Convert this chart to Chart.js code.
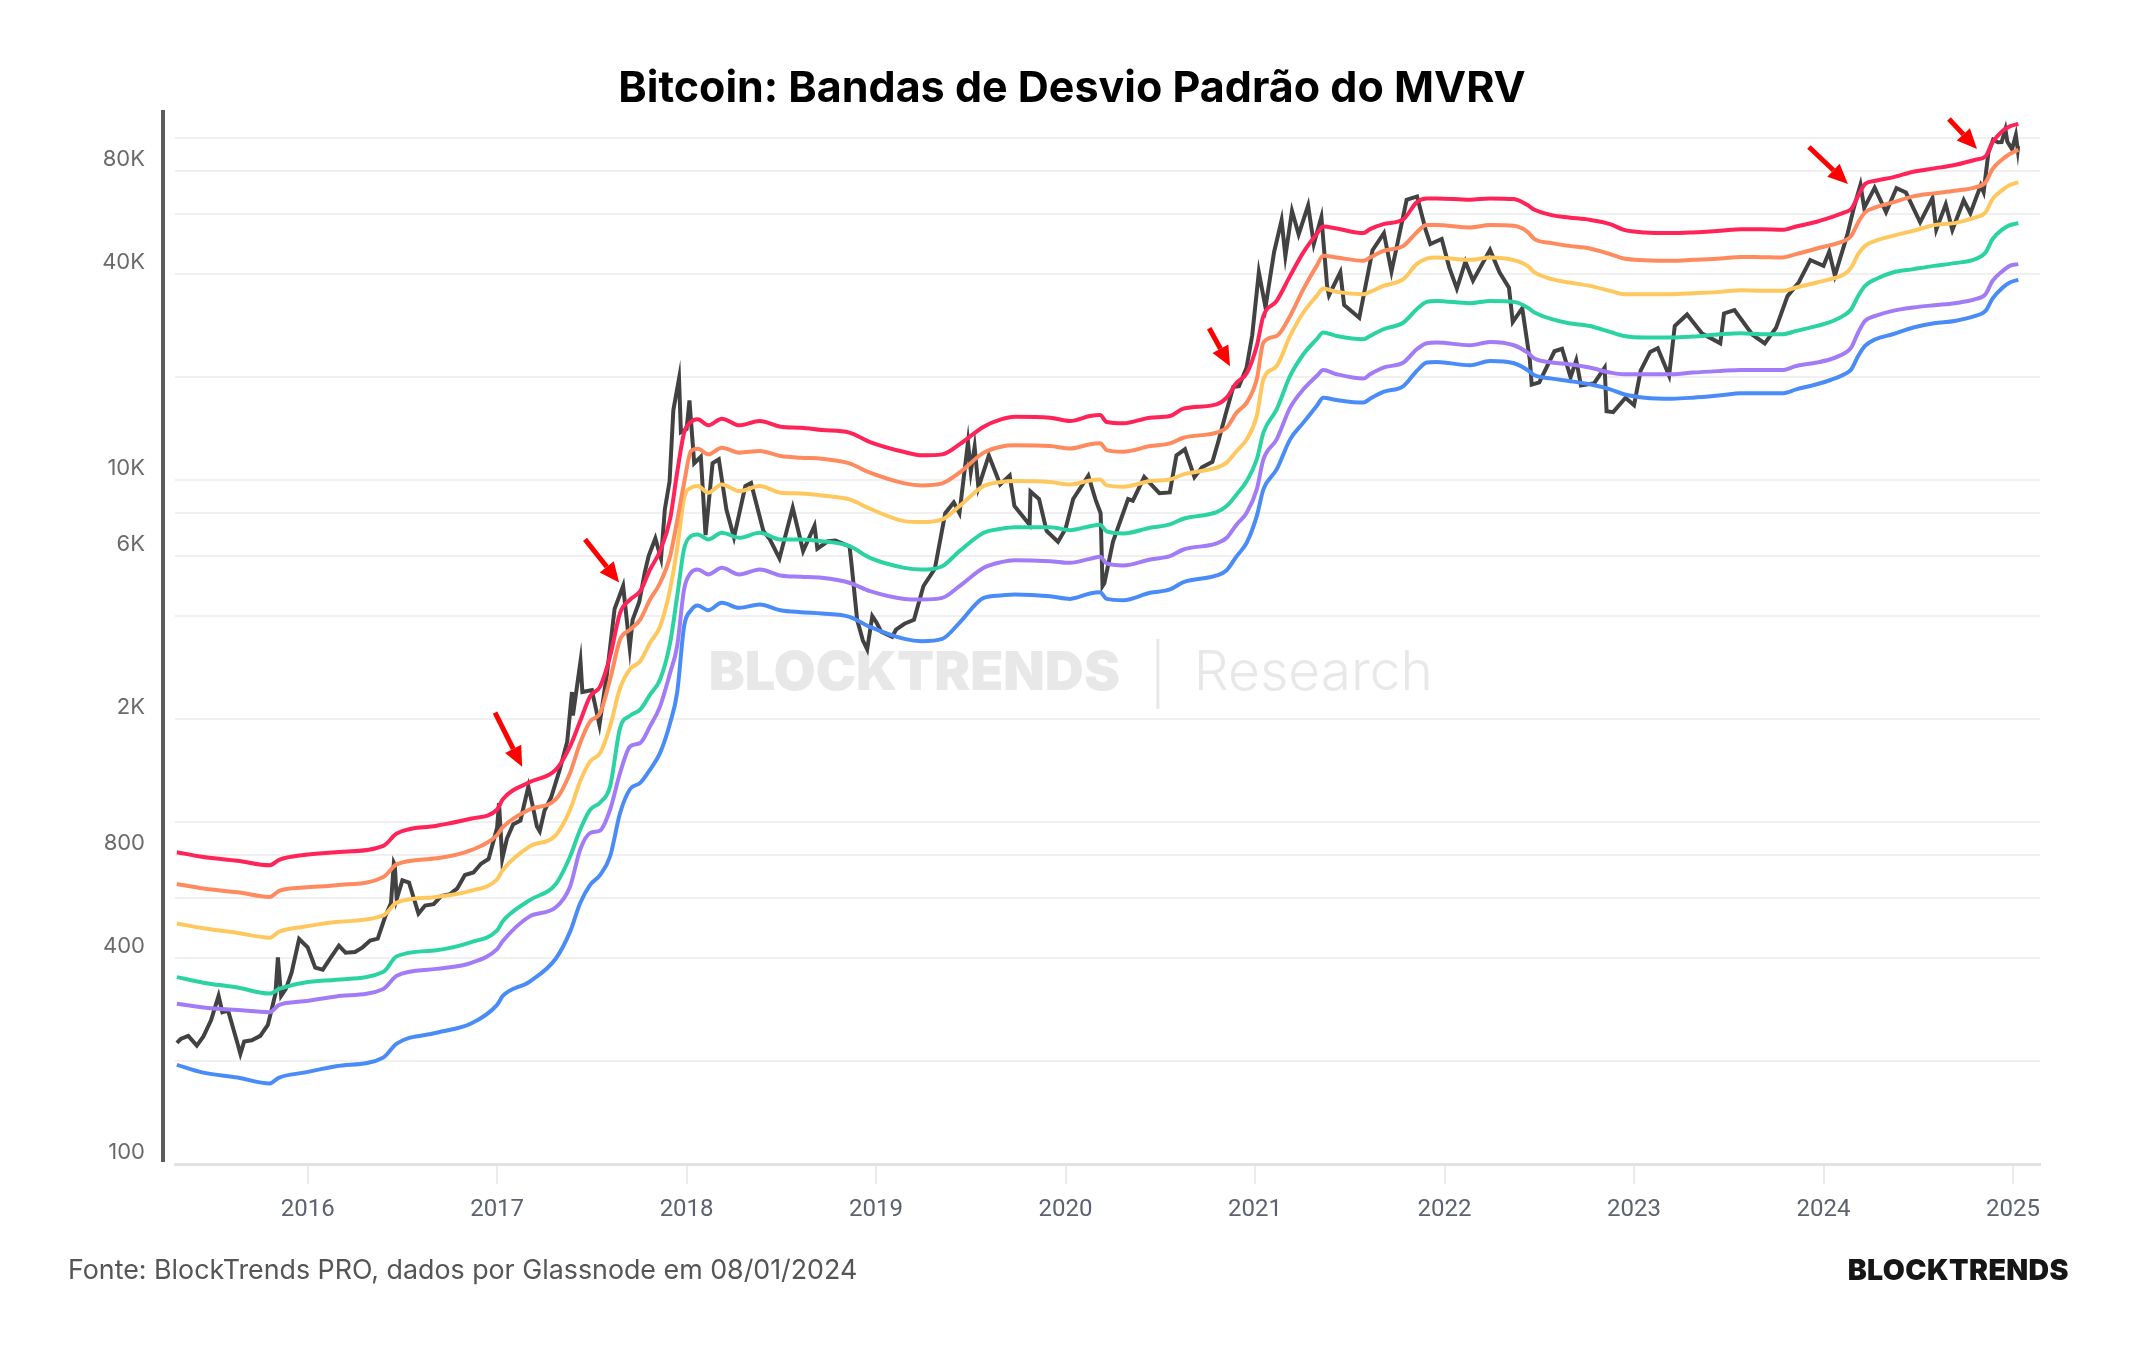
<!DOCTYPE html>
<html>
<head>
<meta charset="utf-8">
<script src="https://cdn.jsdelivr.net/npm/chart.js@4.4.0/dist/chart.umd.min.js"></script>
<style>
  html, body { margin: 0; padding: 0; background: #fff; }
  #wrap { position: relative; width: 2144px; height: 1350px; overflow: hidden; background: #fff; }
  #chart { position: absolute; left: 0; top: 0; }
  .title { position: absolute; top: 61px; left: 0; width: 2144px; text-align: center; font: 700 43px Inter, "Noto Sans", sans-serif; line-height: 50px; color: #000; }
  .source { position: absolute; left: 68px; top: 1252px; font: 400 26.8px Inter, sans-serif; line-height: 34px; color: #555; }
  .logo { position: absolute; right: 75px; top: 1253px; font: 900 28.5px Inter, sans-serif; line-height: 34px; color: #161616; letter-spacing: 0.4px; }
</style>
</head>
<body>
<div id="wrap">
  <canvas id="chart" width="2144" height="1350"></canvas>
  <div class="title">Bitcoin: Bandas de Desvio Padrão do MVRV</div>
  <div class="source">Fonte: BlockTrends PRO, dados por Glassnode em 08/01/2024</div>
  <div class="logo">BLOCKTRENDS</div>
</div>
<script>
// price (USD), dates as decimal years
const priceYears = [
  2015.31, 2015.33, 2015.37, 2015.415, 2015.45, 2015.49, 2015.53, 2015.55, 2015.58, 2015.63, 2015.645, 2015.665, 2015.705, 2015.75, 2015.79, 2015.83, 2015.843, 2015.86, 2015.885, 2015.915, 2015.955,
  2016.0, 2016.04, 2016.08, 2016.12, 2016.165, 2016.2, 2016.25, 2016.29, 2016.33, 2016.37, 2016.41, 2016.44, 2016.455, 2016.46, 2016.47, 2016.5, 2016.535, 2016.585, 2016.62, 2016.665, 2016.705, 2016.75, 2016.79, 2016.83, 2016.875, 2016.915, 2016.955,
  2017.0, 2017.01, 2017.027, 2017.052, 2017.085, 2017.123, 2017.165, 2017.19, 2017.21, 2017.225, 2017.25, 2017.285, 2017.33, 2017.37, 2017.395, 2017.4, 2017.44, 2017.45, 2017.5, 2017.54, 2017.58, 2017.62, 2017.665, 2017.7, 2017.715, 2017.75, 2017.78, 2017.8, 2017.835, 2017.865, 2017.885, 2017.91, 2017.93, 2017.96, 2017.97,
  2018.0, 2018.015, 2018.04, 2018.075, 2018.1, 2018.137, 2018.17, 2018.21, 2018.25, 2018.31, 2018.34, 2018.405, 2018.44, 2018.49, 2018.56, 2018.615, 2018.675, 2018.69, 2018.745, 2018.785, 2018.86, 2018.87, 2018.9, 2018.93, 2018.953, 2018.98,
  2019.0, 2019.027, 2019.085, 2019.105, 2019.15, 2019.2, 2019.25, 2019.31, 2019.365, 2019.41, 2019.44, 2019.485, 2019.5, 2019.52, 2019.54, 2019.595, 2019.655, 2019.705, 2019.73, 2019.81, 2019.815, 2019.86, 2019.9, 2019.96,
  2020.0, 2020.04, 2020.12, 2020.16, 2020.185, 2020.195, 2020.205, 2020.25, 2020.33, 2020.355, 2020.415, 2020.495, 2020.55, 2020.585, 2020.63, 2020.68, 2020.72, 2020.775, 2020.805, 2020.845, 2020.885, 2020.915, 2020.955, 2020.985,
  2021.02, 2021.055, 2021.1, 2021.14, 2021.16, 2021.195, 2021.23, 2021.28, 2021.31, 2021.35, 2021.38, 2021.39, 2021.45, 2021.47, 2021.55, 2021.62, 2021.68, 2021.72, 2021.8, 2021.855, 2021.9, 2021.925, 2021.985,
  2022.025, 2022.065, 2022.11, 2022.15, 2022.24, 2022.29, 2022.34, 2022.36, 2022.41, 2022.45, 2022.46, 2022.5, 2022.58, 2022.62, 2022.665, 2022.695, 2022.72, 2022.79, 2022.845, 2022.855, 2022.89, 2022.955,
  2023.0, 2023.035, 2023.085, 2023.125, 2023.185, 2023.215, 2023.28, 2023.36, 2023.455, 2023.475, 2023.53, 2023.625, 2023.69, 2023.75, 2023.81, 2023.87, 2023.93,
  2024.0, 2024.03, 2024.06, 2024.125, 2024.16, 2024.195, 2024.215, 2024.27, 2024.33, 2024.385, 2024.435, 2024.51, 2024.575, 2024.595, 2024.645, 2024.68, 2024.74, 2024.775, 2024.83, 2024.845, 2024.87, 2024.895, 2024.92, 2024.94, 2024.96, 2024.97, 2024.995,
  2025.015, 2025.025, 2025.027
]
const priceValues = [
  226, 232, 237, 222, 236, 263, 310, 278, 281, 225, 210, 228, 230, 237, 255, 314, 402, 310, 325, 362, 455,
  430, 375, 370, 400, 435, 415, 417, 430, 450, 456, 530, 580, 760, 750, 595, 675, 665, 540, 570, 575, 607, 615, 640, 700, 712, 755, 780,
  963, 1135, 780, 895, 985, 1010, 1270, 1100, 970, 940, 1080, 1180, 1420, 1720, 2400, 2050, 2950, 2400, 2430, 1920, 2720, 4200, 4900, 3230, 3900, 4400, 5400, 6000, 6750, 5900, 8200, 9900, 16000, 19800, 13800,
  14100, 17100, 11200, 11700, 6900, 11200, 11500, 8200, 6800, 9600, 9800, 7100, 6700, 5900, 8300, 6200, 7350, 6300, 6620, 6650, 6400, 5700, 3900, 3400, 3200, 4000,
  3850, 3600, 3480, 3650, 3800, 3900, 4900, 5500, 8000, 8600, 8000, 12900, 10600, 12500, 9500, 11800, 9700, 10300, 8400, 7400, 9250, 8800, 7100, 6600,
  7200, 8800, 10300, 8700, 8000, 4900, 5000, 6600, 8800, 8700, 10200, 9150, 9200, 11800, 12300, 10200, 10900, 11300, 12900, 15600, 18700, 18800, 21300, 26500,
  40500, 32000, 46300, 57500, 45200, 61200, 52300, 63500, 49000, 58800, 37000, 34700, 40500, 32500, 29800, 47000, 52700, 40700, 66000, 67500, 54000, 49000, 50700,
  41800, 36300, 43500, 38300, 47100, 40500, 36500, 29000, 31800, 22500, 19000, 19300, 23800, 24200, 20000, 22400, 18900, 19200, 21300, 15900, 15800, 17400,
  16550, 20900, 23700, 24300, 20200, 28200, 30500, 26800, 25100, 30700, 31400, 26600, 25100, 27900, 34500, 37900, 44000,
  42300, 46500, 39600, 52000, 62500, 73000, 62500, 71600, 60700, 71400, 69300, 56700, 66800, 54000, 64000, 53900, 65800, 60300, 72700, 69500, 90500, 98900, 97200, 97300, 106100, 97700, 92800,
  102100, 92500, 94700
]

// MVRV deviation bands, read at common dates
const bandYears = [
  2015.31, 2015.45, 2015.63, 2015.80, 2015.85, 2015.98, 2016.15, 2016.40, 2016.47, 2016.68, 2016.86, 2017.00, 2017.03, 2017.17, 2017.31,
  2017.385, 2017.438, 2017.491, 2017.544, 2017.596, 2017.649, 2017.702, 2017.755, 2017.807, 2017.86, 2017.913,
  2017.95, 2017.987, 2018.023, 2018.059, 2018.114, 2018.186, 2018.278, 2018.386, 2018.495, 2018.604, 2018.713, 2018.859, 2018.968, 2019.15, 2019.241, 2019.349, 2019.44, 2019.568, 2019.659, 2019.731,
  2019.918, 2020.024, 2020.129, 2020.182, 2020.217, 2020.305, 2020.446, 2020.551, 2020.622, 2020.797, 2020.85, 2020.903, 2020.956, 2021.009, 2021.044, 2021.114, 2021.185, 2021.255, 2021.325, 2021.36, 2021.431, 2021.572, 2021.607, 2021.677, 2021.783, 2021.853, 2021.906, 2021.958, 2022.134, 2022.24,
  2022.366, 2022.438, 2022.475, 2022.566, 2022.656, 2022.766, 2022.874, 2022.947, 2023.056, 2023.202, 2023.311, 2023.456, 2023.565, 2023.674, 2023.783, 2023.856, 2023.965, 2024.037, 2024.11, 2024.146, 2024.183, 2024.219, 2024.274, 2024.365, 2024.474, 2024.583, 2024.692, 2024.801, 2024.855, 2024.892, 2024.946, 2024.983, 2025.028
]
const bandRed = [
  816, 790, 770, 747, 775, 801, 816, 852, 925, 975, 1022, 1088, 1166, 1306, 1422,
  1664, 1970, 2331, 2494, 3052, 4090, 4473, 4731, 5475, 6200, 7700,
  10509, 13761, 14780, 15047, 14453, 15117, 14453, 14879, 14324, 14225, 14002, 13761, 12917, 12074, 11808, 11888, 12718, 14324, 15047, 15323,
  15216, 14879, 15387, 15493, 14780, 14651, 15216, 15387, 16171, 16653, 17414, 19276, 20523, 24664, 30192, 33408, 39535, 46300, 52377, 55152, 54389, 52733, 54159, 56029, 57935, 64857, 66602, 66602, 66005, 66602,
  66297, 63678, 61689, 59535, 58589, 57668, 56029, 53909, 52983, 52733, 52983, 53553, 54159, 54159, 53909, 55152, 56906, 58589, 60629, 61999, 67812, 73368, 75016, 76747, 79715, 81529, 83391, 86428, 88424, 97185, 105098, 108229, 109940
]
const bandOrange = [
  659, 639, 623, 604, 629, 643, 653, 691, 752, 783, 826, 916, 966, 1088, 1166,
  1392, 1703, 1970, 2085, 2609, 3416, 3654, 3909, 4473, 5000, 5990,
  7600, 9824, 12155, 12349, 11888, 12430, 12026, 12155, 11751, 11621, 11545, 11189, 10509, 9778, 9646, 9778, 10509, 12026, 12518, 12631,
  12570, 12371, 12718, 12804, 12236, 12107, 12570, 12804, 13298, 13761, 14225, 15747, 16845, 19704, 25241, 26384, 30192, 36150, 42292, 45241, 44743, 43749, 44743, 46798, 48395, 52983, 55648, 55648, 54770, 55648,
  55381, 53197, 50628, 49295, 48395, 47546, 45771, 44431, 43952, 43749, 44039, 44431, 44929, 44836, 44743, 45771, 47546, 48629, 50061, 51770, 56677, 60629, 62675, 64857, 67535, 68912, 70126, 71720, 74217, 81154, 86865, 89811, 92439
]
const bandYellow = [
  505, 489, 474, 459, 478, 494, 510, 533, 581, 604, 629, 680, 724, 847, 916,
  1086, 1315, 1504, 1593, 1905, 2466, 2804, 2951, 3342, 3730, 4800,
  6300, 8860, 9494, 9600, 9184, 9712, 9283, 9600, 9184, 9141, 9018, 8778, 8242, 7583, 7533, 7670, 8390, 9600, 9864, 9930,
  9864, 9712, 9976, 10043, 9646, 9560, 9930, 10043, 10389, 10864, 11242, 12155, 13150, 15387, 19704, 21553, 26384, 30899, 34549, 36309, 35500, 34953, 35500, 36958, 38663, 42787, 44431, 44743, 44039, 44743,
  43952, 42292, 40461, 38663, 37823, 36958, 35741, 34953, 34953, 34953, 35191, 35500, 35911, 35741, 35741, 36569, 37823, 38663, 39998, 41826, 45771, 48395, 50061, 51770, 53553, 55648, 56410, 58589, 60629, 66297, 70639, 72880, 74217
]
const bandGreen = [
  352, 339, 328, 315, 325, 339, 346, 365, 405, 422, 445, 482, 513, 590, 659,
  793, 949, 1086, 1141, 1271, 1884, 2047, 2131, 2358, 2609, 3342,
  4570, 6300, 6853, 6933, 6703, 7013, 6777, 7013, 6703, 6703, 6627, 6407, 5923, 5537, 5472, 5599, 6195, 7013, 7202, 7282,
  7282, 7137, 7331, 7401, 7075, 6980, 7250, 7417, 7704, 8058, 8390, 9079, 9930, 11492, 13761, 16097, 20149, 23326, 25805, 26999, 26384, 25805, 26384, 27601, 28884, 31584, 33186, 33408, 32897, 33408,
  33186, 31953, 30899, 29541, 28748, 28224, 27110, 26384, 26093, 26093, 26274, 26692, 26874, 26692, 26692, 27292, 28224, 29001, 30337, 31584, 34549, 36958, 38663, 40461, 41381, 42292, 43078, 44256, 46300, 50628, 54159, 55648, 56410
]
const bandPurple = [
  294, 287, 282, 278, 292, 299, 309, 325, 355, 372, 387, 425, 449, 529, 563,
  648, 830, 929, 945, 1086, 1392, 1664, 1703, 1905, 2179, 2730,
  3270, 4800, 5360, 5475, 5295, 5537, 5295, 5475, 5259, 5212, 5176, 5007, 4732, 4492, 4473, 4523, 4893, 5537, 5753, 5831,
  5792, 5730, 5881, 5966, 5703, 5626, 5857, 5989, 6265, 6526, 6777, 7417, 8026, 9390, 11492, 13150, 16279, 18420, 20149, 20981, 20384, 19797, 20384, 21326, 22058, 24120, 25122, 25241, 24785, 25343,
  24785, 23597, 22653, 22058, 21806, 21326, 20620, 20384, 20384, 20384, 20620, 20842, 20981, 20981, 20981, 21556, 22058, 22551, 23485, 24392, 27001, 29196, 30192, 31231, 31953, 32455, 32897, 33786, 34953, 38234, 40897, 42292, 42787
]
const bandBlue = [
  195, 185, 179, 172, 179, 185, 193, 205, 225, 242, 257, 292, 310, 341, 399,
  478, 579, 655, 701, 793, 1063, 1249, 1301, 1423, 1593, 1949,
  2390, 3740, 4160, 4297, 4163, 4376, 4230, 4326, 4163, 4107, 4071, 3982, 3722, 3431, 3378, 3431, 3824, 4524, 4596, 4628,
  4574, 4492, 4659, 4700, 4492, 4453, 4680, 4786, 5027, 5259, 5450, 5989, 6557, 7842, 9390, 10743, 13150, 14720, 16460, 17414, 17140, 16845, 17293, 18093, 18835, 20842, 22058, 22147, 21657, 22295,
  21954, 20981, 20250, 19797, 19486, 19055, 18420, 17814, 17414, 17293, 17414, 17693, 17935, 17935, 17935, 18420, 19055, 19613, 20384, 21057, 23057, 24664, 25805, 26692, 27940, 28748, 29196, 30192, 31231, 33942, 36569, 37823, 38484
]

// axes
const xTickYears = [2016, 2017, 2018, 2019, 2020, 2021, 2022, 2023, 2024, 2025]
const yGridValues = [100, 200, 400, 600, 800, 1000, 2000, 4000, 6000, 8000, 10000, 20000, 40000, 60000, 80000, 100000]
const yLabelValues = [100, 400, 800, 2000, 6000, 10000, 40000, 80000]
const yLabelTexts = ["100", "400", "800", "2K", "6K", "10K", "40K", "80K"]

// red arrows (tail -> head), in chart units
const arrowFromYears = [2016.989, 2017.464, 2020.758, 2023.923, 2024.662]
const arrowFromPrices = [2089, 6706, 27800, 94163, 113739]
const arrowToYears = [2017.132, 2017.644, 2020.868, 2024.129, 2024.81]
const arrowToPrices = [1451, 5017, 21514, 73368, 92905]

const toPoints = (xs, ys) => xs.map((x, i) => ({ x, y: ys[i] }))

const bandStyle = (label, values, color) => ({
  label,
  data: toPoints(bandYears, values),
  borderColor: color,
  borderWidth: 4,
  pointRadius: 0,
  cubicInterpolationMode: "monotone",
  order: 1
})

const decorations = {
  id: "decorations",
  beforeDatasetsDraw(chart) {
    const { ctx, chartArea } = chart
    const cx = chartArea.left + chartArea.width * 0.527
    const cy = chartArea.top + chartArea.height * 0.535
    ctx.save()
    ctx.fillStyle = "#e8e8e8"
    ctx.textBaseline = "middle"
    ctx.font = "900 54px Inter, sans-serif"
    ctx.textAlign = "right"
    ctx.fillText("BLOCKTRENDS", cx - 38, cy)
    ctx.font = "300 55px Inter, sans-serif"
    ctx.textAlign = "left"
    ctx.fillText("Research", cx + 36, cy)
    ctx.strokeStyle = "#e8e8e8"
    ctx.lineWidth = 3
    ctx.beginPath()
    ctx.moveTo(cx, cy - 35)
    ctx.lineTo(cx, cy + 35)
    ctx.stroke()
    ctx.restore()
  },
  afterDatasetsDraw(chart) {
    const { ctx, scales } = chart
    ctx.save()
    ctx.strokeStyle = "#ff0000"
    ctx.fillStyle = "#ff0000"
    ctx.lineWidth = 5
    arrowFromYears.forEach((yr, i) => {
      const x1 = scales.x.getPixelForValue(yr)
      const y1 = scales.y.getPixelForValue(arrowFromPrices[i])
      const x2 = scales.x.getPixelForValue(arrowToYears[i])
      const y2 = scales.y.getPixelForValue(arrowToPrices[i])
      const a = Math.atan2(y2 - y1, x2 - x1)
      const head = 20, half = 9
      const bx = x2 - head * Math.cos(a), by = y2 - head * Math.sin(a)
      ctx.beginPath()
      ctx.moveTo(x1, y1)
      ctx.lineTo(bx, by)
      ctx.stroke()
      ctx.beginPath()
      ctx.moveTo(x2, y2)
      ctx.lineTo(bx + half * Math.sin(a), by - half * Math.cos(a))
      ctx.lineTo(bx - half * Math.sin(a), by + half * Math.cos(a))
      ctx.closePath()
      ctx.fill()
    })
    ctx.restore()
  },
  afterDraw(chart) {
    // dark vertical axis line, set a little left of the grid
    const { ctx, chartArea } = chart
    ctx.save()
    ctx.strokeStyle = "#5c5c5c"
    ctx.lineWidth = 4
    ctx.beginPath()
    ctx.moveTo(chartArea.left - 12, chartArea.top)
    ctx.lineTo(chartArea.left - 12, chartArea.bottom - 2)
    ctx.stroke()
    ctx.restore()
  }
}

Chart.defaults.font.family = "Inter, sans-serif"

new Chart(document.getElementById("chart"), {
  type: "line",
  data: {
    datasets: [
      {
        label: "Preço BTC",
        data: toPoints(priceYears, priceValues),
        borderColor: "#424242",
        borderWidth: 4,
        pointRadius: 0,
        tension: 0,
        order: 10
      },
      bandStyle("Banda superior", bandRed, "#ff2358"),
      bandStyle("Banda 2", bandOrange, "#ff8a5e"),
      bandStyle("Banda 3", bandYellow, "#ffc85e"),
      bandStyle("Banda 4", bandGreen, "#2cd3a2"),
      bandStyle("Banda 5", bandPurple, "#a27cf6"),
      bandStyle("Banda inferior", bandBlue, "#4a8cf7")
    ]
  },
  options: {
    responsive: false,
    animation: false,
    devicePixelRatio: 1,
    parsing: false,
    layout: { padding: { top: 110, right: 104, bottom: 0, left: 0 } },
    plugins: { legend: { display: false }, tooltip: { enabled: false } },
    scales: {
      x: {
        type: "linear",
        min: 2015.30,
        max: 2025.1425,
        afterBuildTicks: s => { s.ticks = xTickYears.map(v => ({ value: v })) },
        afterFit: s => { s.height = 186 },
        ticks: {
          callback: v => String(v),
          color: "#5d6270",
          font: { family: "Roboto, sans-serif", size: 24 },
          padding: 12,
          maxRotation: 0
        },
        grid: { drawOnChartArea: false, drawTicks: true, tickLength: 20, color: "#ebebeb", lineWidth: 2 },
        border: { display: true, color: "#e2e2e2", width: 3 }
      },
      y: {
        type: "logarithmic",
        min: 100,
        max: 120800,
        afterBuildTicks: s => { s.ticks = yGridValues.map(v => ({ value: v })) },
        afterFit: s => { s.width = 175 },
        ticks: {
          callback: v => {
            const i = yLabelValues.indexOf(v)
            return i >= 0 ? yLabelTexts[i] : ""
          },
          color: "#6a6a6a",
          font: { size: 22 },
          padding: 30,
          labelOffset: -12,
          autoSkip: false
        },
        grid: { color: "#f0f0f0", lineWidth: 2, drawTicks: false },
        border: { display: false }
      }
    }
  },
  plugins: [decorations]
})
</script>
</body>
</html>
